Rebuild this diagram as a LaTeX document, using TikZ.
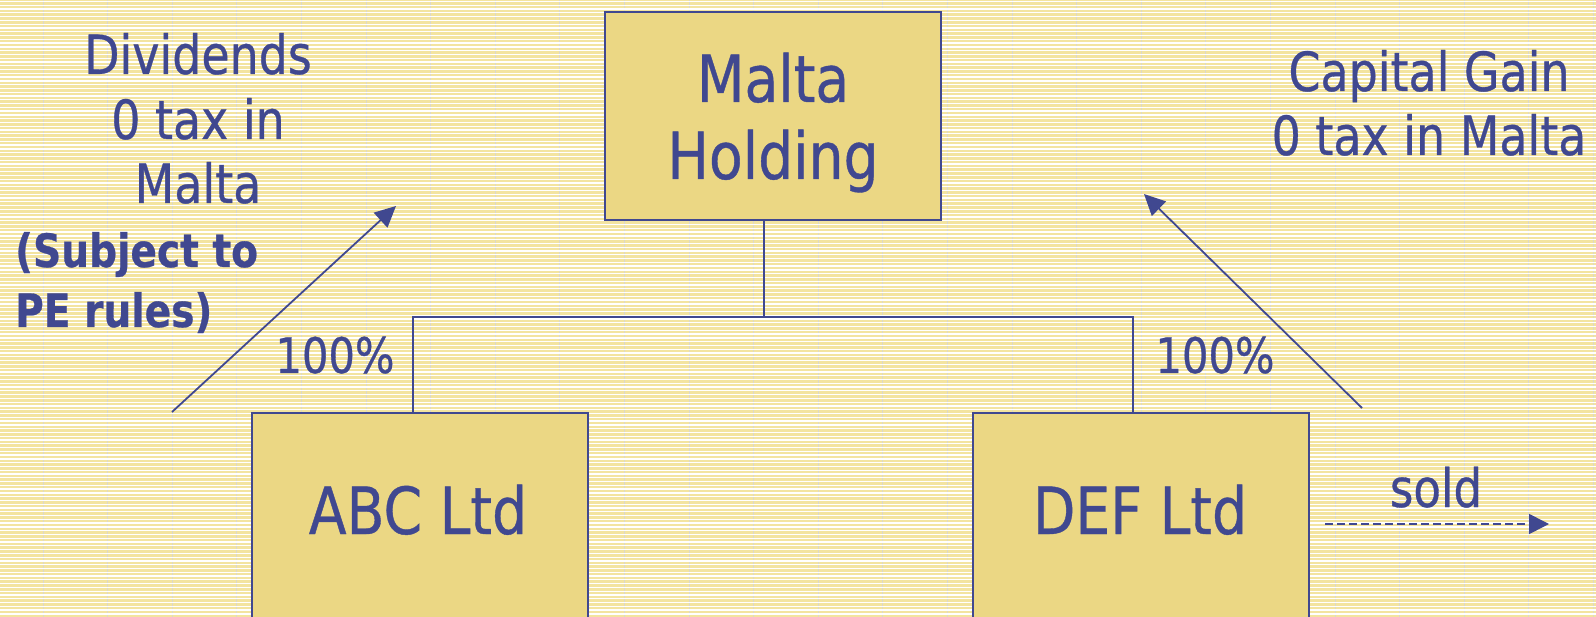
\documentclass[tikz,border=0pt]{standalone}
\usepackage{fontspec}
\setmainfont{DejaVu Sans}[FakeStretch=0.85,FakeBold=0.6]
\usetikzlibrary{arrows.meta}
\definecolor{ink}{HTML}{404890}
\definecolor{boxfill}{HTML}{EBD784}
\definecolor{bg}{HTML}{F3E4A0}
\definecolor{vline}{HTML}{DCD8C8}
\tikzset{
  box/.style={draw=ink, line width=2pt, fill=boxfill, rectangle, inner sep=0pt},
  txt/.style={text=ink, inner sep=0pt, anchor=base},
  conn/.style={draw=ink, line width=1.8pt},
  arr/.style={draw=ink, line width=1.8pt, -{Triangle[length=21pt,width=20pt]}},
}
\newcommand{\fs}[1]{\fontsize{#1}{#1}\selectfont}
\begin{document}
\begin{tikzpicture}[x=1pt,y=-1pt]
\clip (0,0) rectangle (1596,617);
% background
\fill[bg] (0,0) rectangle (1596,617);
\foreach \i in {0,...,24} {\draw[vline, line width=1pt] ({43+64.6*\i},0) -- ({43+64.6*\i},617);}
\foreach \i in {0,...,163} {\draw[white, line width=1.3pt] (0,{1.5+3.78*\i}) -- (1596,{1.5+3.78*\i});}
% boxes
\node[box, minimum width=336pt, minimum height=208pt] (malta) at (773,116) {};
\node[box, minimum width=336pt, minimum height=240pt] (abc) at (420,533) {};
\node[box, minimum width=336pt, minimum height=240pt] (def) at (1141,533) {};
% box texts
\node[txt, font=\fs{65}] (maltaA) at (773,102) {Malta};
\node[txt, font=\fs{65}] (maltaB) at (773,179) {Holding};
\node[txt, font=\fs{65}] (abct) at (418,534) {ABC Ltd};
\node[txt, font=\fs{65}] (deft) at (1140,534) {DEF Ltd};
% tree connectors
\coordinate (junc) at ([xshift=-9pt]malta.south |- 0,317);
\draw[conn] ([xshift=-9pt]malta.south) -- (junc) -| ([xshift=-7pt]abc.north);
\draw[conn] (junc) -| ([xshift=-8pt]def.north);
% percentages
\node[txt, font=\fs{49}] (p1) at (335,373) {100\%};
\node[txt, font=\fs{49}] (p2) at (1215,373) {100\%};
% left labels
\node[txt, font=\fs{54}] (d1) at (198,74) {Dividends};
\node[txt, font=\fs{54}] (d2) at (198,139) {0 tax in};
\node[txt, font=\fs{54}] (d3) at (198,203) {Malta};
\node[txt, anchor=base west, font=\bfseries\fs{46}] (s1) at (15,267) {(Subject to};
\node[txt, anchor=base west, font=\bfseries\fs{46}] (s2) at (15,327) {PE rules)};
% right labels
\node[txt, font=\fs{54}] (c1) at (1429,91) {Capital Gain};
\node[txt, font=\fs{54}] (c2) at (1429,155) {0 tax in Malta};
% diagonal arrows
\coordinate (ltail) at (172,412);
\coordinate (ltip) at (396,206);
\coordinate (rtail) at (1362,408);
\coordinate (rtip) at (1144,194);
\draw[arr] (ltail) -- (ltip);
\draw[arr] (rtail) -- (rtip);
% sold
\node[txt, font=\fs{53}] (sold) at (1436,507) {sold};
\coordinate (stip) at (1549,524);
\draw[ink, line width=1.6pt, dash pattern=on 8pt off 4pt, -{Triangle[length=20pt,width=20pt]}] ([xshift=15pt]def.east |- stip) -- (stip);
\end{tikzpicture}
\end{document}
